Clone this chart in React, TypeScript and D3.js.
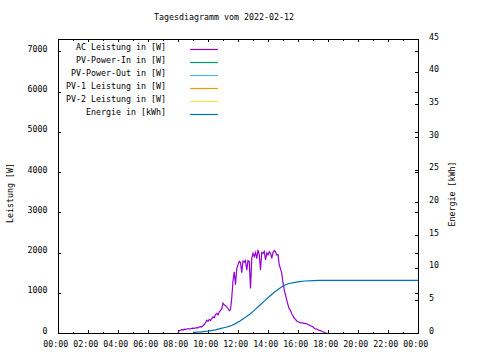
import React from "react";
import * as d3 from "d3";

// ---------- data ----------
const title = "Tagesdiagramm vom 2022-02-12";
const xTickLabels = ["00:00", "02:00", "04:00", "06:00", "08:00", "10:00", "12:00", "14:00", "16:00", "18:00", "20:00", "22:00", "00:00"];
const xTickHours = [0, 2, 4, 6, 8, 10, 12, 14, 16, 18, 20, 22, 24];
const yTicks = [0, 1000, 2000, 3000, 4000, 5000, 6000, 7000];
const y2Ticks = [0, 5, 10, 15, 20, 25, 30, 35, 40, 45];

const legendLabels = [
  "AC Leistung in [W]",
  "PV-Power-In in [W]",
  "PV-Power-Out in [W]",
  "PV-1 Leistung in [W]",
  "PV-2 Leistung in [W]",
  "Energie in [kWh]",
];
const legendColors = ["#9400d3", "#009e73", "#56b4e9", "#e69f00", "#f0e442", "#0072b2"];

// AC power, 5-minute samples, one row per hour starting 08:00
const acStartHour = 8;
const acPowerRows = [
  [0, 55, 70, 85, 75, 95, 90, 100, 110, 95, 105, 115],
  [120, 115, 125, 135, 130, 150, 160, 155, 180, 210, 260, 320],
  [290, 340, 310, 360, 400, 380, 460, 490, 450, 520, 560, 600],
  [740, 700, 680, 650, 610, 555, 580, 870, 1300, 1520, 1200, 1600],
  [1700, 1780, 1750, 1500, 1790, 1760, 1800, 1560, 1800, 1780, 1110, 1850],
  [1980, 1900, 2000, 1850, 2065, 1950, 1570, 2000, 1980, 2030, 1815, 1990],
  [1940, 2020, 1980, 1855, 2000, 2050, 2020, 1940, 1950, 1690, 1600, 1485],
  [1250, 1070, 950, 820, 700, 600, 560, 480, 430, 365, 340, 300],
  [280, 270, 255, 250, 245, 240, 235, 230, 210, 195, 180, 170],
  [150, 115, 100, 95, 80, 65, 60, 45, 30, 20, 5, 0],
];

// Energy (kWh)
const energyHours = [9.0, 9.5, 10.0, 10.5, 10.8, 11.2, 11.5, 11.8, 12.13, 12.5, 12.8, 13.1, 13.47, 13.8, 14.13, 14.4, 14.69, 14.9, 15.13, 15.4, 15.8, 16.1, 16.47, 17.0, 17.47, 24];
const energyValues = [0.1, 0.18, 0.3, 0.48, 0.66, 0.88, 1.08, 1.4, 1.84, 2.4, 2.9, 3.5, 4.29, 5.0, 5.66, 6.2, 6.69, 7.05, 7.35, 7.58, 7.76, 7.87, 7.96, 8.02, 8.06, 8.06];

// ---------- layout ----------
const W = 480, H = 360;
const L = 58, R = 418, T = 39, B = 333;
const FONT = "'DejaVu Sans Mono', 'Liberation Mono', monospace";
const FS = 8.3;

export default function App() {
  const x = d3.scaleLinear().domain([0, 24]).range([L, R]);
  const y = d3.scaleLinear().domain([0, 7310]).range([B, T]);
  const y2 = d3.scaleLinear().domain([0, 45]).range([B, T]);

  const acData: [number, number][] = [];
  acPowerRows.forEach((row, h) =>
    row.forEach((v, i) => acData.push([acStartHour + h + i / 12, v]))
  );
  const acLine = d3.line<[number, number]>().x((d) => x(d[0])).y((d) => y(d[1]));
  const enData: [number, number][] = energyHours.map((h, i) => [h, energyValues[i]]);
  const enLine = d3.line<[number, number]>().x((d) => x(d[0])).y((d) => y2(d[1]));

  const minorHours = d3.range(1, 24, 2);

  return (
    <svg width={W} height={H} style={{ display: "block", position: "absolute", left: 0, top: 0, background: "#fff" }}>
      <rect x={0} y={0} width={W} height={H} fill="#fff" />
      <g fontFamily={FONT} fontSize={FS} fill="#000">
        <text x={224} y={19.5} textAnchor="middle">{title}</text>

        {/* axes labels */}
        <text transform={`translate(12.5,193) rotate(-90)`} textAnchor="middle">Leistung [W]</text>
        <text transform={`translate(455,194) rotate(-90)`} textAnchor="middle">Energie [kWh]</text>

        {/* y tick labels */}
        {yTicks.map((t) => (
          <text key={"yl" + t} x={47.5} y={y(t) + 0.5} textAnchor="end">{t}</text>
        ))}
        {y2Ticks.map((t) => (
          <text key={"y2l" + t} x={429} y={y2(t) + 0.8} textAnchor="start">{t}</text>
        ))}
        {xTickHours.map((h, i) => (
          <text key={"xl" + i} x={x(h) - 2.2} y={346.5} textAnchor="middle">{xTickLabels[i]}</text>
        ))}
      </g>

      {/* ticks */}
      <g stroke="#000" strokeWidth={1} shapeRendering="crispEdges">
        {yTicks.map((t) => (
          <g key={"yt" + t}>
            <line x1={L} x2={L + 3} y1={Math.round(y(t)) + 0.5} y2={Math.round(y(t)) + 0.5} />
            <line x1={R - 3} x2={R} y1={Math.round(y(t)) + 0.5} y2={Math.round(y(t)) + 0.5} />
          </g>
        ))}
        {y2Ticks.map((t) => (
          <line key={"y2t" + t} x1={R - 3} x2={R} y1={Math.round(y2(t)) + 0.5} y2={Math.round(y2(t)) + 0.5} />
        ))}
        {xTickHours.map((h) => (
          <g key={"xt" + h}>
            <line x1={x(h) + 0.5} x2={x(h) + 0.5} y1={B} y2={B - 3} />
            <line x1={x(h) + 0.5} x2={x(h) + 0.5} y1={T} y2={T + 3} />
          </g>
        ))}
        {minorHours.map((h) => (
          <g key={"mt" + h}>
            <line x1={x(h) + 0.5} x2={x(h) + 0.5} y1={B} y2={B - 1.5} />
            <line x1={x(h) + 0.5} x2={x(h) + 0.5} y1={T} y2={T + 1.5} />
          </g>
        ))}
      </g>

      {/* data */}
      <path d={acLine(acData) || ""} fill="none" stroke={legendColors[0]} strokeWidth={1.2} />
      <path d={enLine(enData) || ""} fill="none" stroke={legendColors[5]} strokeWidth={1.2} />

      {/* border */}
      <rect x={L + 0.5} y={T + 0.5} width={R - L} height={B - T} fill="none" stroke="#000" strokeWidth={1} shapeRendering="crispEdges" />

      {/* legend */}
      <g fontFamily={FONT} fontSize={FS}>
        {legendLabels.map((lab, i) => (
          <g key={lab}>
            <text x={166} y={49.5 + 13 * i} textAnchor="end" fill="#000">{lab}</text>
            <line x1={190} x2={218} y1={49.5 + 13 * i} y2={49.5 + 13 * i} stroke={legendColors[i]} strokeWidth={1.2} />
          </g>
        ))}
      </g>
    </svg>
  );
}
